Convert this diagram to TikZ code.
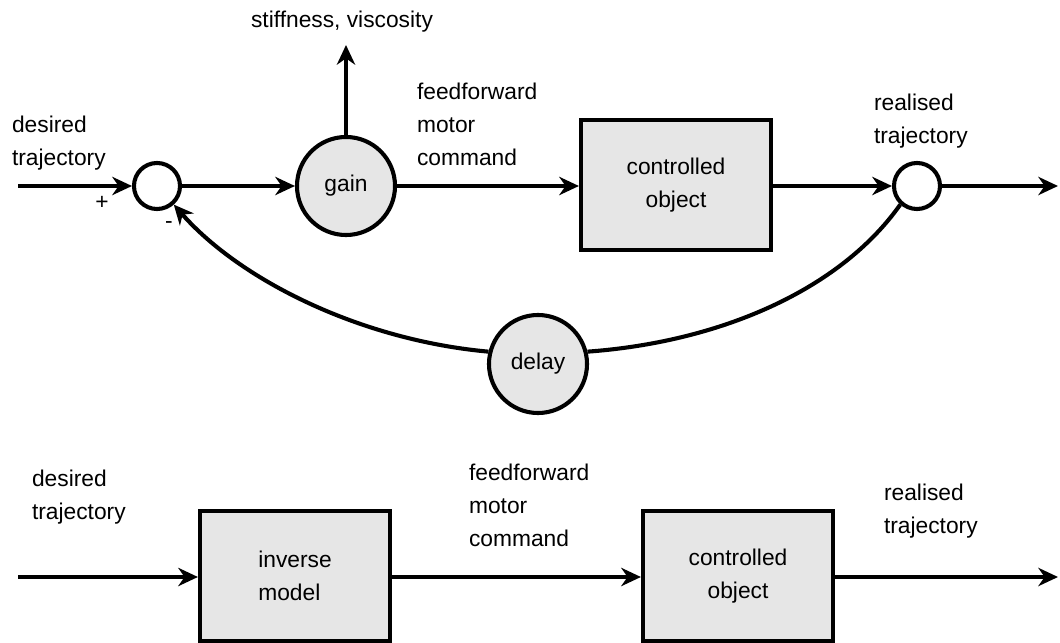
\documentclass[tikz,border=0pt]{standalone}
\usepackage{fontspec}
\setmainfont{Liberation Sans}
\usetikzlibrary{arrows.meta}
\definecolor{boxgray}{HTML}{E6E6E6}

\begin{document}
\begin{tikzpicture}[x=0.025cm, y=-0.025cm, line width=2.9pt, >={Stealth[length=14pt,width=13pt,inset=4.5pt]}]
        \tikzstyle{every node}=[font=\fontsize{16.2}{23.4}\selectfont, line width=2.9pt]
        \tikzstyle{sum}=[circle, draw, minimum size=1.15cm, inner sep=0pt]
        \tikzstyle{blob}=[circle, draw, fill=boxgray, minimum size=2.45cm, inner sep=0pt]
        \tikzstyle{block}=[draw, fill=boxgray, minimum width=4.75cm, minimum height=3.25cm]
        \tikzstyle{txt}=[align=left, anchor=west, inner sep=0pt]
        \useasboundingbox (0,0) rectangle (1060,643);
        % feedback loop
        \coordinate (in1) at (18,186);
        \coordinate (out1) at (1058,186);
        \coordinate (up) at (346,45);
        \node [sum] (s1) at (157,186) {};
        \node [blob] (gain) at (346,186) {gain};
        \node [block, align=center] (obj1) at (676,185) {controlled\\object};
        \node [sum] (s2) at (917,186) {};
        \node [blob] (delay) at (538,364) {delay};
        \node (stiff) at (342,22) {stiffness, viscosity};
        \node [txt] (des1) at (10,143) {desired\\trajectory};
        \node [txt] (ff1) at (415,124) {feedforward\\motor\\command};
        \node [txt] (real1) at (872,121) {realised\\trajectory};
        \node (plus) at (102,203) {+};
        \node (minus) at (169,225) {-};
        \draw [->] (in1) -- (s1);
        \draw [->] (s1) -- (gain);
        \draw [->] (gain) -- (up);
        \draw [->] (gain) -- (obj1.west |- gain);
        \draw [->] (obj1.east |- s2) -- (s2);
        \draw [->] (s2) -- (out1);
        \draw (s2.228) .. controls (840,290) and (720,342) .. (delay.14);
        \draw [->] (delay.166) .. controls (360,340) and (240,280) .. (s1.-48);
        % inverse model
        \coordinate (in2) at (18,577);
        \coordinate (out2) at (1058,577);
        \node [block, align=left] (inv) at (295,576) {inverse\\model};
        \node [block, align=center] (obj2) at (738,576) {controlled\\object};
        \node [txt] (des2) at (30,497) {desired\\trajectory};
        \node [txt] (ff2) at (467,505) {feedforward\\motor\\command};
        \node [txt] (real2) at (882,511) {realised\\trajectory};
        \draw [->] (in2) -- (inv.west |- in2);
        \draw [->] (inv.east |- in2) -- (obj2.west |- in2);
        \draw [->] (obj2.east |- out2) -- (out2);
\end{tikzpicture}
\end{document}
